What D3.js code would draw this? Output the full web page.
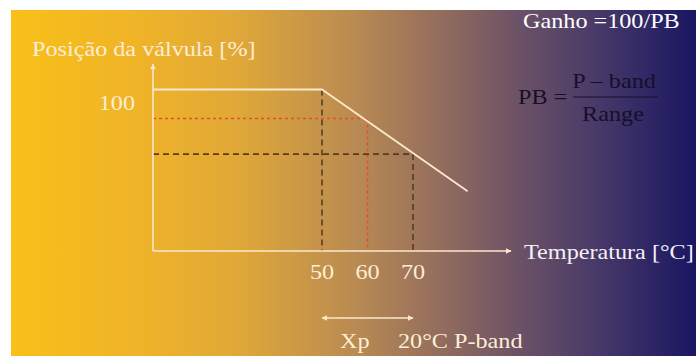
<!DOCTYPE html>
<html>
<head>
<meta charset="utf-8">
<script src="https://cdn.jsdelivr.net/npm/d3@7"></script>
<style>
  html, body { margin: 0; padding: 0; background: #ffffff; }
  svg { display: block; }
  text { font-family: "Liberation Serif", "DejaVu Serif", serif; }
</style>
</head>
<body>
<svg id="chart" width="696" height="356"></svg>
<script>
// Proportional controller: valve position against temperature
const xTicks = [50, 60, 70];              // temperature tick labels [°C]
const yTicks = [100];                      // valve position tick labels [%]
const curveTemp = [50, 82];                // sloped part of the response
const curveValve = [100, 37];
const markTemp = [60, 70];                 // guide points on the response
const markValve = [82, 60];
const bandStart = 50, bandEnd = 70;        // proportional band (Xp)

const svg = d3.select("#chart");
const W = 696, H = 356;

// background: gold → navy
const defs = svg.append("defs");
const grad = defs.append("linearGradient").attr("id", "bg")
  .attr("x1", "0%").attr("x2", "100%").attr("y1", "0%").attr("y2", "0%");
[["0%", "#f8c018"], ["18%", "#f0b428"], ["33%", "#e0a838"], ["50%", "#ba8b52"],
 ["63%", "#926c5e"], ["74%", "#6c5266"], ["86%", "#463868"], ["100%", "#191662"]]
  .forEach(([o, c]) => grad.append("stop").attr("offset", o).attr("stop-color", c));
svg.append("rect").attr("x", 11).attr("y", 10).attr("width", W - 11).attr("height", H - 10)
  .attr("fill", "url(#bg)");

// arrowheads
function marker(id, orient) {
  defs.append("marker").attr("id", id).attr("viewBox", "0 0 10 10")
    .attr("refX", 9).attr("refY", 5).attr("markerWidth", 6).attr("markerHeight", 6)
    .attr("markerUnits", "userSpaceOnUse").attr("orient", orient)
    .append("path").attr("d", "M0,0 L10,5 L0,10 z").attr("fill", "#fbe8cc");
}
marker("arrow", "auto");
marker("arrowStart", "auto-start-reverse");

// slightly wide serif lettering
function label(px, py, str, color, anchor) {
  return svg.append("text")
    .attr("transform", `translate(${px},${py}) scale(1.1,1)`)
    .attr("font-size", 22).attr("fill", color)
    .attr("text-anchor", anchor || "start").text(str);
}

// scales
const x = d3.scaleLinear().domain([50, 70]).range([322, 413]);
const y = d3.scaleLinear().domain([0, 100]).range([251, 89.5]);
const x0 = 153, xEnd = 511, yTop = 64;   // axis extents
const axisColor = "#fbe8cc";
const cream = "#fdeed6";

// guide lines
const dark = "#5a3c1c", red = "#e84e28";
function guide(tx, vy, color, dash, w) {
  svg.append("line").attr("x1", x0).attr("x2", x(tx)).attr("y1", y(vy)).attr("y2", y(vy))
    .attr("stroke", color).attr("stroke-width", w).attr("stroke-dasharray", dash);
  svg.append("line").attr("x1", x(tx)).attr("x2", x(tx)).attr("y1", y(vy)).attr("y2", y(0))
    .attr("stroke", color).attr("stroke-width", w).attr("stroke-dasharray", dash);
}
guide(markTemp[0], markValve[0], red, "3,3", 1.5);
guide(markTemp[1], markValve[1], dark, "6,4", 1.6);
svg.append("line").attr("x1", x(bandStart)).attr("x2", x(bandStart))
  .attr("y1", y(100)).attr("y2", y(0))
  .attr("stroke", dark).attr("stroke-width", 1.6).attr("stroke-dasharray", "6,4");

// axes
svg.append("line").attr("x1", x0).attr("x2", x0).attr("y1", y(0)).attr("y2", yTop)
  .attr("stroke", axisColor).attr("stroke-width", 1.6).attr("marker-end", "url(#arrow)");
svg.append("line").attr("x1", x0).attr("x2", xEnd).attr("y1", y(0)).attr("y2", y(0))
  .attr("stroke", axisColor).attr("stroke-width", 1.6).attr("marker-end", "url(#arrow)");

// response line: saturated at 100 %, then falls through the band
const pts = [[x.invert(x0), 100]].concat(curveTemp.map((t, i) => [t, curveValve[i]]));
svg.append("path").datum(pts)
  .attr("d", d3.line().x(d => x(d[0])).y(d => y(d[1])))
  .attr("fill", "none").attr("stroke", "#fbe8cc").attr("stroke-width", 1.8);

// tick labels
xTicks.forEach(d => label(x(d), 279, d, cream, "middle"));
yTicks.forEach(d => label(135, y(d) + 20.5, d, cream, "end"));

// axis titles
label(32, 56, "Posição da válvula [%]", cream);
label(524, 259, "Temperatura [°C]", "#f4f0f4");

// proportional band
svg.append("line").attr("x1", x(bandStart)).attr("x2", x(bandEnd)).attr("y1", 318).attr("y2", 318)
  .attr("stroke", axisColor).attr("stroke-width", 1.5)
  .attr("marker-start", "url(#arrowStart)").attr("marker-end", "url(#arrow)");
label(340, 348, "Xp", cream);
label(398, 348, "20°C P-band", cream);

// gain formula
label(523, 28, "Ganho =100/PB", "#ffffff");
const ink = "#160f2c";
label(518, 104, "PB =", ink);
label(614, 88, "P – band", ink, "middle");
svg.append("line").attr("x1", 573).attr("x2", 658).attr("y1", 97).attr("y2", 97)
  .attr("stroke", ink).attr("stroke-width", 1.2);
label(613, 121, "Range", ink, "middle");
</script>
</body>
</html>
